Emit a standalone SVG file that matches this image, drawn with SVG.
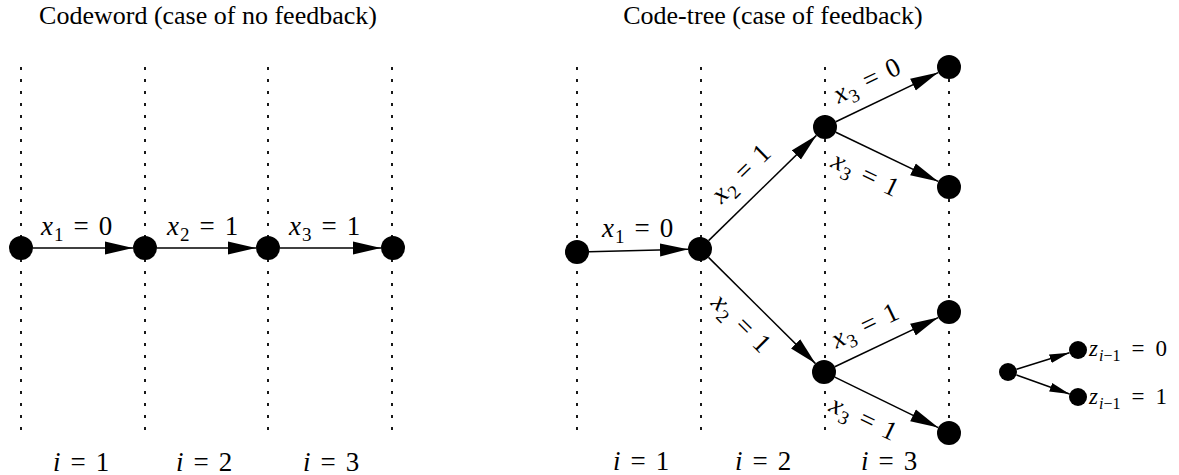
<svg xmlns="http://www.w3.org/2000/svg" width="1179" height="475" viewBox="0 0 1179 475">
<defs>
<style>
.title{font-family:"Liberation Serif","Times New Roman",serif;font-size:26px;fill:#000;text-anchor:middle}
.m{font-family:"Liberation Serif","Times New Roman",serif;font-size:27px;fill:#000}
.ml{font-family:"Liberation Serif","Times New Roman",serif;font-size:23px;fill:#000}
.v{font-style:italic}
.s{font-size:19px}
.sl{font-size:16px}
.dot{stroke:#000;stroke-width:1.8;stroke-dasharray:3 9;fill:none}
.edge{stroke:#000;stroke-width:1.5;fill:none;marker-end:url(#ah)}
.edges{stroke:#000;stroke-width:1.5;fill:none;marker-end:url(#ahs)}
.node{fill:#000}
</style>
<marker id="ah" markerUnits="userSpaceOnUse" markerWidth="28" markerHeight="14" refX="28" refY="7" orient="auto" viewBox="0 0 28 14">
<path d="M0,0.5 L28,7 L0,13.5 z" fill="#000"/>
</marker>
<marker id="ahs" markerUnits="userSpaceOnUse" markerWidth="20" markerHeight="10" refX="20" refY="5" orient="auto" viewBox="0 0 20 10">
<path d="M0,0.5 L20,5 L0,9.5 z" fill="#000"/>
</marker>
</defs>
<rect width="1179" height="475" fill="#fff"/>

<text class="title" x="208" y="24">Codeword (case of no feedback)</text>
<text class="title" x="773" y="24">Code-tree (case of feedback)</text>

<g id="guides">
<line class="dot" x1="21" y1="67" x2="21" y2="430"/>
<line class="dot" x1="145" y1="67" x2="145" y2="430"/>
<line class="dot" x1="268" y1="67" x2="268" y2="430"/>
<line class="dot" x1="392" y1="67" x2="392" y2="430"/>
<line class="dot" x1="577" y1="67" x2="577" y2="430"/>
<line class="dot" x1="701" y1="67" x2="701" y2="430"/>
<line class="dot" x1="825" y1="67" x2="825" y2="430"/>
<line class="dot" x1="949" y1="67" x2="949" y2="430"/>
</g>

<g id="connectors">
<line class="edge" x1="33" y1="248" x2="133" y2="248"/>
<line class="edge" x1="157" y1="248" x2="256" y2="248"/>
<line class="edge" x1="280" y1="248" x2="381" y2="248"/>
<line class="edge" x1="589" y1="251.7" x2="688" y2="249.3"/>
<line class="edge" x1="708.6" y1="240.6" x2="816.4" y2="135.4"/>
<line class="edge" x1="708.5" y1="257.4" x2="815.5" y2="363.6"/>
<line class="edge" x1="835.8" y1="121.8" x2="938.2" y2="72.6"/>
<line class="edge" x1="835.8" y1="132.2" x2="938.2" y2="181.4"/>
<line class="edge" x1="834.8" y1="366.8" x2="938.2" y2="317.6"/>
<line class="edge" x1="834.8" y1="377.2" x2="938.2" y2="427.6"/>
<line class="edges" x1="1016.6" y1="369.3" x2="1069.4" y2="352.7"/>
<line class="edges" x1="1016.5" y1="375" x2="1069.5" y2="394"/>
</g>

<g id="nodes-left">
<circle id="a1" class="node" cx="21" cy="248" r="12"/>
<circle id="a2" class="node" cx="145" cy="248" r="12"/>
<circle id="a3" class="node" cx="268" cy="248" r="12"/>
<circle id="a4" class="node" cx="393" cy="248" r="12"/>
</g>
<g id="nodes-tree">
<circle id="root" class="node" cx="577" cy="252" r="12"/>
<circle id="n2" class="node" cx="700" cy="249" r="12"/>
<circle id="up" class="node" cx="825" cy="127" r="12"/>
<circle id="down" class="node" cx="824" cy="372" r="12"/>
<circle id="l1" class="node" cx="949" cy="67" r="12"/>
<circle id="l2" class="node" cx="949" cy="187" r="12"/>
<circle id="l3" class="node" cx="949" cy="312" r="12"/>
<circle id="l4" class="node" cx="949" cy="433" r="12"/>
</g>
<g id="legend">
<circle id="lg0" class="node" cx="1008" cy="372" r="9"/>
<circle id="lg1" class="node" cx="1078" cy="350" r="9"/>
<circle id="lg2" class="node" cx="1078" cy="397" r="9"/>
<text class="ml" x="1089" y="356"><tspan class="v">z</tspan><tspan class="sl" dy="5" dx="1"><tspan class="v">i</tspan>−1</tspan><tspan dy="-5" dx="11">=</tspan><tspan dx="11">0</tspan></text>
<text class="ml" x="1089" y="404"><tspan class="v">z</tspan><tspan class="sl" dy="5" dx="1"><tspan class="v">i</tspan>−1</tspan><tspan dy="-5" dx="11">=</tspan><tspan dx="11">1</tspan></text>
</g>

<g id="edge-labels">
<text class="m" x="41" y="235"><tspan class="v">x</tspan><tspan class="s" dy="6" dx="1">1</tspan><tspan dy="-6" dx="10">=</tspan><tspan dx="10">0</tspan></text>
<text class="m" x="167" y="235"><tspan class="v">x</tspan><tspan class="s" dy="6" dx="1">2</tspan><tspan dy="-6" dx="10">=</tspan><tspan dx="10">1</tspan></text>
<text class="m" x="289" y="235"><tspan class="v">x</tspan><tspan class="s" dy="6" dx="1">3</tspan><tspan dy="-6" dx="10">=</tspan><tspan dx="10">1</tspan></text>
<text class="m" x="602" y="237"><tspan class="v">x</tspan><tspan class="s" dy="6" dx="1">1</tspan><tspan dy="-6" dx="10">=</tspan><tspan dx="10">0</tspan></text>
<g transform="translate(741,173) rotate(-44.3)"><text class="m" x="-36" y="9"><tspan class="v">x</tspan><tspan class="s" dy="6" dx="1">2</tspan><tspan dy="-6" dx="10">=</tspan><tspan dx="10">1</tspan></text></g>
<g transform="translate(742,323) rotate(44.8)"><text class="m" x="-36" y="9"><tspan class="v">x</tspan><tspan class="s" dy="6" dx="1">2</tspan><tspan dy="-6" dx="10">=</tspan><tspan dx="10">1</tspan></text></g>
<g transform="translate(867,80) rotate(-25.6)"><text class="m" x="-36" y="9"><tspan class="v">x</tspan><tspan class="s" dy="6" dx="1">3</tspan><tspan dy="-6" dx="10">=</tspan><tspan dx="10">0</tspan></text></g>
<g transform="translate(866,174) rotate(25.6)"><text class="m" x="-36" y="9"><tspan class="v">x</tspan><tspan class="s" dy="6" dx="1">3</tspan><tspan dy="-6" dx="10">=</tspan><tspan dx="10">1</tspan></text></g>
<g transform="translate(865,325) rotate(-25.6)"><text class="m" x="-36" y="9"><tspan class="v">x</tspan><tspan class="s" dy="6" dx="1">3</tspan><tspan dy="-6" dx="10">=</tspan><tspan dx="10">1</tspan></text></g>
<g transform="translate(864,418) rotate(25.6)"><text class="m" x="-36" y="9"><tspan class="v">x</tspan><tspan class="s" dy="6" dx="1">3</tspan><tspan dy="-6" dx="10">=</tspan><tspan dx="10">1</tspan></text></g>
</g>

<g id="index-labels">
<text class="m" x="53" y="471"><tspan class="v">i</tspan><tspan dx="10">=</tspan><tspan dx="10">1</tspan></text>
<text class="m" x="176" y="471"><tspan class="v">i</tspan><tspan dx="10">=</tspan><tspan dx="10">2</tspan></text>
<text class="m" x="303" y="471"><tspan class="v">i</tspan><tspan dx="10">=</tspan><tspan dx="10">3</tspan></text>
<text class="m" x="613" y="470"><tspan class="v">i</tspan><tspan dx="10">=</tspan><tspan dx="10">1</tspan></text>
<text class="m" x="735" y="470"><tspan class="v">i</tspan><tspan dx="10">=</tspan><tspan dx="10">2</tspan></text>
<text class="m" x="861" y="470"><tspan class="v">i</tspan><tspan dx="10">=</tspan><tspan dx="10">3</tspan></text>
</g>
</svg>
